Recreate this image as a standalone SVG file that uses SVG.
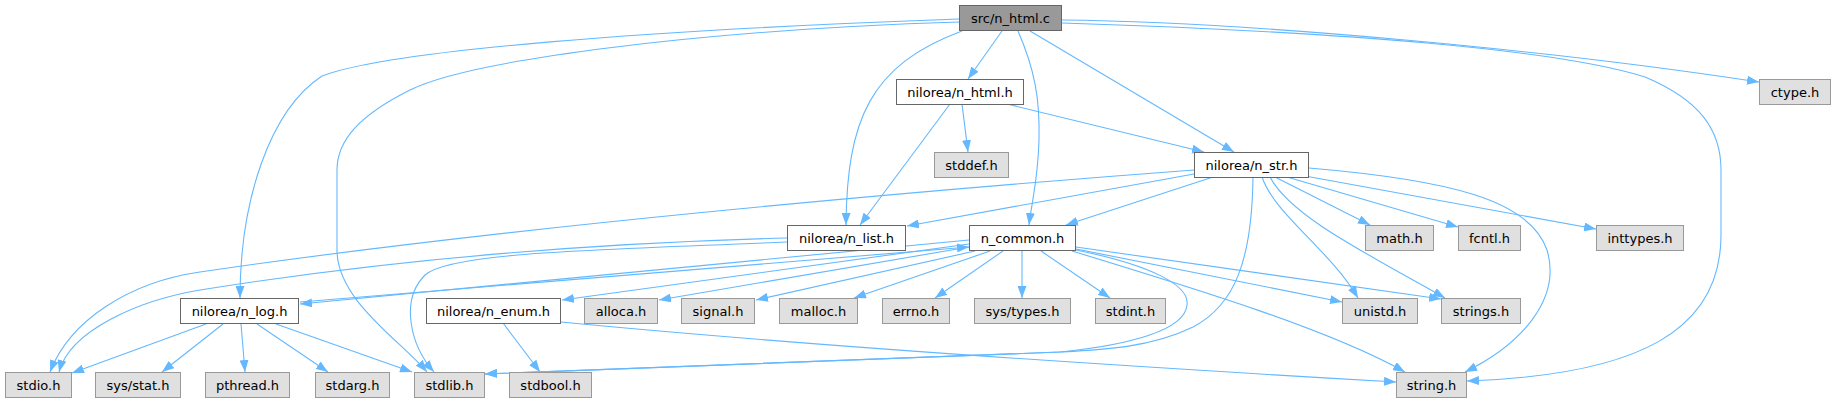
<svg xmlns="http://www.w3.org/2000/svg" width="1835" height="403" viewBox="0 0 1835 403">
<style>
rect{stroke-width:1}
.m rect{fill:#999999;stroke:#666666}
.w rect{fill:#ffffff;stroke:#666666}
.g rect{fill:#e0e0e0;stroke:#999999}
text{font-family:"DejaVu Sans","Liberation Sans",sans-serif;font-size:13px;fill:#000000;text-anchor:middle}
#edges path{fill:none;stroke:#63b8ff;stroke-width:1.1;marker-end:url(#arr)}
</style>
<defs>
<marker id="arr" viewBox="0 0 12 9" refX="12" refY="4.5" markerWidth="12" markerHeight="9" markerUnits="userSpaceOnUse" orient="auto">
<path d="M0,0 L12,4.5 L0,9 z" fill="#63b8ff"/>
</marker>
</defs>
<rect width="1835" height="403" fill="#ffffff"/>
<g id="edges">
<path d="M959,19 C650,30 390,50 322,76 C270,110 240,200 240,298"/>
<path d="M959,22 C700,30 470,60 410,90 C360,115 337,140 337,170 L337,250 C337,300 400,340 427,372"/>
<path d="M962,31 C870,65 847,120 846,225"/>
<path d="M1002,31 L968,79"/>
<path d="M1018,31 C1035,70 1040,100 1039,140 C1038,180 1032,200 1029,225"/>
<path d="M1030,31 L1234,152"/>
<path d="M1062,20 C1250,22 1550,50 1759,82"/>
<path d="M1062,23 C1350,32 1560,50 1645,77 C1700,100 1721,130 1721,170 L1721,235 C1721,330 1640,375 1467,381"/>
<path d="M962,104 L968,152"/>
<path d="M950,104 L860,225"/>
<path d="M1007,104 L1204,152"/>
<path d="M1194,170 C900,192 500,228 200,272 C130,282 70,320 50,372"/>
<path d="M1194,174 L907,226"/>
<path d="M1213,177 L1066,225"/>
<path d="M1253,177 C1252,260 1235,305 1193,327 C1150,348 1100,350 1060,352 C900,358 700,364 485,374"/>
<path d="M1275,177 L1370,225"/>
<path d="M1287,177 L1458,227"/>
<path d="M1305,176 L1596,229"/>
<path d="M1309,168 C1450,180 1530,200 1547,250 C1562,300 1520,345 1465,372"/>
<path d="M1262,177 C1275,215 1330,250 1358,298"/>
<path d="M1270,177 C1290,215 1360,250 1445,298"/>
<path d="M787,238 C600,243 400,258 200,290 C140,300 70,330 59,372"/>
<path d="M787,242 C600,250 450,252 425,275 C400,300 410,345 434,372"/>
<path d="M969,240 L300,304"/>
<path d="M300,302 L969,247"/>
<path d="M969,244 L562,300"/>
<path d="M969,247 L659,300"/>
<path d="M975,251 L756,300"/>
<path d="M990,251 L854,298"/>
<path d="M1003,251 L935,298"/>
<path d="M1022,251 L1022,298"/>
<path d="M1041,251 L1110,298"/>
<path d="M1076,249 L1342,302"/>
<path d="M1076,247 L1441,299"/>
<path d="M1072,251 C1200,290 1330,330 1405,372"/>
<path d="M1076,250 C1150,265 1190,285 1187,305 C1185,330 1130,345 1060,352 C900,358 700,364 485,374"/>
<path d="M206,324 L72,373"/>
<path d="M223,324 L162,372"/>
<path d="M241,324 L245,372"/>
<path d="M257,324 L328,372"/>
<path d="M276,324 L412,372"/>
<path d="M503,323 L540,372"/>
<path d="M561,322 C800,345 1100,365 1396,382"/>
</g>
<g id="n_html_c" class="m"><rect x="959.5" y="5.5" width="102" height="25"/><text x="1010.5" y="22.5">src/n_html.c</text></g>
<g id="n_html_h" class="w"><rect x="896.5" y="79.5" width="127" height="25"/><text x="960" y="96.5">nilorea/n_html.h</text></g>
<g id="ctype_h" class="g"><rect x="1759.5" y="79.5" width="71" height="25"/><text x="1795" y="96.5">ctype.h</text></g>
<g id="stddef_h" class="g"><rect x="934.5" y="152.5" width="74" height="25"/><text x="971.5" y="169.5">stddef.h</text></g>
<g id="n_str_h" class="w"><rect x="1194.5" y="152.5" width="114" height="25"/><text x="1251.5" y="169.5">nilorea/n_str.h</text></g>
<g id="n_list_h" class="w"><rect x="787.5" y="225.5" width="118" height="25"/><text x="846.5" y="242.5">nilorea/n_list.h</text></g>
<g id="n_common_h" class="w"><rect x="969.5" y="225.5" width="106" height="25"/><text x="1022.5" y="242.5">n_common.h</text></g>
<g id="math_h" class="g"><rect x="1365.5" y="225.5" width="68" height="25"/><text x="1399.5" y="242.5">math.h</text></g>
<g id="fcntl_h" class="g"><rect x="1458.5" y="225.5" width="62" height="25"/><text x="1489.5" y="242.5">fcntl.h</text></g>
<g id="inttypes_h" class="g"><rect x="1596.5" y="225.5" width="87" height="25"/><text x="1640" y="242.5">inttypes.h</text></g>
<g id="n_log_h" class="w"><rect x="180.5" y="298.5" width="118" height="25"/><text x="239.5" y="315.5">nilorea/n_log.h</text></g>
<g id="n_enum_h" class="w"><rect x="426.5" y="298.5" width="134" height="25"/><text x="493.5" y="315.5">nilorea/n_enum.h</text></g>
<g id="alloca_h" class="g"><rect x="584.5" y="298.5" width="73" height="25"/><text x="621" y="315.5">alloca.h</text></g>
<g id="signal_h" class="g"><rect x="681.5" y="298.5" width="73" height="25"/><text x="718" y="315.5">signal.h</text></g>
<g id="malloc_h" class="g"><rect x="779.5" y="298.5" width="78" height="25"/><text x="818.5" y="315.5">malloc.h</text></g>
<g id="errno_h" class="g"><rect x="882.5" y="298.5" width="67" height="25"/><text x="916" y="315.5">errno.h</text></g>
<g id="sys_types_h" class="g"><rect x="974.5" y="298.5" width="96" height="25"/><text x="1022.5" y="315.5">sys/types.h</text></g>
<g id="stdint_h" class="g"><rect x="1095.5" y="298.5" width="70" height="25"/><text x="1130.5" y="315.5">stdint.h</text></g>
<g id="unistd_h" class="g"><rect x="1342.5" y="298.5" width="75" height="25"/><text x="1380" y="315.5">unistd.h</text></g>
<g id="strings_h" class="g"><rect x="1441.5" y="298.5" width="79" height="25"/><text x="1481" y="315.5">strings.h</text></g>
<g id="stdio_h" class="g"><rect x="5.5" y="372.5" width="66" height="25"/><text x="38.5" y="389.5">stdio.h</text></g>
<g id="sys_stat_h" class="g"><rect x="95.5" y="372.5" width="85" height="25"/><text x="138" y="389.5">sys/stat.h</text></g>
<g id="pthread_h" class="g"><rect x="205.5" y="372.5" width="84" height="25"/><text x="247.5" y="389.5">pthread.h</text></g>
<g id="stdarg_h" class="g"><rect x="315.5" y="372.5" width="74" height="25"/><text x="352.5" y="389.5">stdarg.h</text></g>
<g id="stdlib_h" class="g"><rect x="414.5" y="372.5" width="70" height="25"/><text x="449.5" y="389.5">stdlib.h</text></g>
<g id="stdbool_h" class="g"><rect x="509.5" y="372.5" width="82" height="25"/><text x="550.5" y="389.5">stdbool.h</text></g>
<g id="string_h" class="g"><rect x="1396.5" y="372.5" width="70" height="25"/><text x="1431.5" y="389.5">string.h</text></g>
</svg>
